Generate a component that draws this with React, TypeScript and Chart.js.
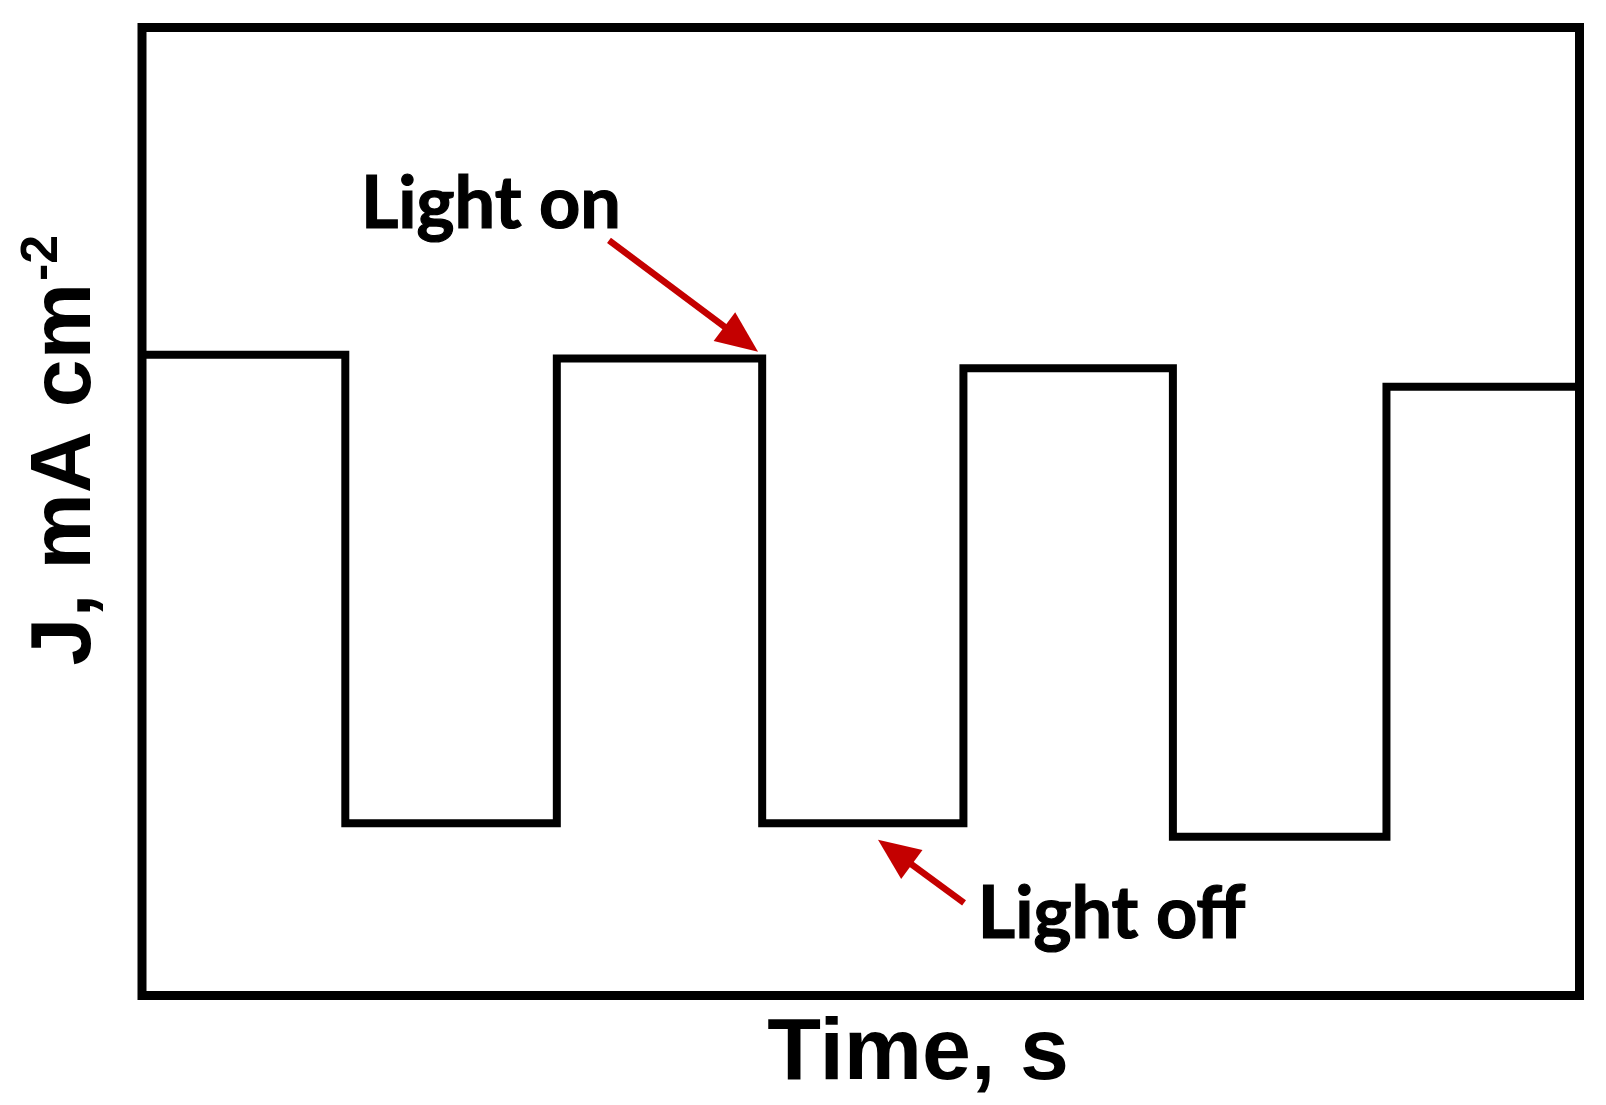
import React, { useEffect, useRef } from "react";
import { Chart, registerables } from "chart.js";

Chart.register(...registerables);

// ---- data (time in s, current density in arbitrary units) ----
const transitionTimes = [0, 99, 202, 302, 400, 502, 606, 700];
const currentLevels = [6.62, 1.78, 6.58, 1.78, 6.48, 1.64, 6.29, 6.29];
const xRange = [0, 700];
const yRange = [0, 10];

const xAxisTitle = "Time, s";
const yAxisTitle = "J, mA cm";
const yAxisTitleSup = "-2";

// annotations placed in data coordinates
const annotationLabels = ["Light on", "Light off"];
const annotationLabelAt = [
  [106.6, 7.93],
  [407, 0.594],
];
const arrowTailAt = [
  [227.4, 7.8],
  [400.3, 0.956],
];
const arrowTipAt = [
  [300, 6.65],
  [358.4, 1.61],
];

const RED = "#C40000";

const decorPlugin = {
  id: "decor",
  afterDatasetsDraw(chart: any) {
    const { ctx, chartArea } = chart;
    const xs = chart.scales.x;
    const ys = chart.scales.y;
    const { left, top, right, bottom } = chartArea;
    ctx.save();
    // frame
    ctx.strokeStyle = "#000";
    ctx.lineWidth = 9;
    ctx.lineJoin = "miter";
    ctx.strokeRect(left, top, right - left, bottom - top);

    // x title
    ctx.fillStyle = "#000";
    ctx.font = "bold 88px 'Liberation Sans', Arial, sans-serif";
    ctx.textAlign = "center";
    ctx.textBaseline = "alphabetic";
    ctx.fillText(xAxisTitle, xs.getPixelForValue(377.9), bottom + 83.5);

    // y title (rotated)
    ctx.save();
    ctx.translate(left - 52, ys.getPixelForValue(3.41));
    ctx.rotate(-Math.PI / 2);
    ctx.textAlign = "left";
    ctx.font = "bold 86px 'Liberation Sans', Arial, sans-serif";
    ctx.fillText(yAxisTitle, 0, 0);
    const w = ctx.measureText(yAxisTitle).width;
    ctx.font = "bold 52px 'Liberation Sans', Arial, sans-serif";
    ctx.fillText(yAxisTitleSup, w + 2, -33);
    ctx.restore();

    // annotation labels
    ctx.font = "bold 72px Lato, 'Open Sans', sans-serif";
    ctx.textAlign = "left";
    ctx.lineWidth = 1.2;
    ctx.strokeStyle = "#000";
    annotationLabels.forEach((lab, i) => {
      const [tx, ty] = annotationLabelAt[i];
      const px = xs.getPixelForValue(tx);
      const py = ys.getPixelForValue(ty);
      ctx.fillText(lab, px, py);
      ctx.strokeText(lab, px, py);
    });

    // arrows
    ctx.strokeStyle = RED;
    ctx.fillStyle = RED;
    ctx.lineWidth = 6.5;
    ctx.lineCap = "butt";
    arrowTailAt.forEach((tail, i) => {
      const x0 = xs.getPixelForValue(tail[0]);
      const y0 = ys.getPixelForValue(tail[1]);
      const x1 = xs.getPixelForValue(arrowTipAt[i][0]);
      const y1 = ys.getPixelForValue(arrowTipAt[i][1]);
      const ang = Math.atan2(y1 - y0, x1 - x0);
      const headLen = 42;
      const headHalf = 18;
      const bx = x1 - headLen * Math.cos(ang);
      const by = y1 - headLen * Math.sin(ang);
      ctx.beginPath();
      ctx.moveTo(x0, y0);
      ctx.lineTo(bx + 2 * Math.cos(ang), by + 2 * Math.sin(ang));
      ctx.stroke();
      ctx.beginPath();
      ctx.moveTo(x1, y1);
      ctx.lineTo(bx + headHalf * Math.sin(ang), by - headHalf * Math.cos(ang));
      ctx.lineTo(bx - headHalf * Math.sin(ang), by + headHalf * Math.cos(ang));
      ctx.closePath();
      ctx.fill();
    });
    ctx.restore();
  },
};

export default function App() {
  const ref = useRef<HTMLCanvasElement | null>(null);
  useEffect(() => {
    if (!ref.current) return;
    const points = transitionTimes.map((t, i) => ({ x: t, y: currentLevels[i] }));
    const chart = new Chart(ref.current, {
      type: "line",
      data: {
        datasets: [
          {
            data: points,
            stepped: true,
            borderColor: "#000",
            borderWidth: 8,
            borderJoinStyle: "miter",
            borderCapStyle: "butt",
            pointRadius: 0,
            fill: false,
          },
        ],
      },
      options: {
        animation: false,
        responsive: false,
        devicePixelRatio: 1,
        layout: { padding: { left: 142, top: 27.5, right: 26.5, bottom: 109.5 } },
        plugins: { legend: { display: false }, tooltip: { enabled: false } },
        scales: {
          x: { type: "linear", min: xRange[0], max: xRange[1], display: false },
          y: { type: "linear", min: yRange[0], max: yRange[1], display: false },
        },
      },
      plugins: [decorPlugin],
    } as any);
    return () => chart.destroy();
  }, []);
  return (
    <div style={{ position: "absolute", left: 0, top: 0, width: 1606, height: 1105, background: "#fff" }}>
      <canvas ref={ref} width={1606} height={1105} />
    </div>
  );
}
